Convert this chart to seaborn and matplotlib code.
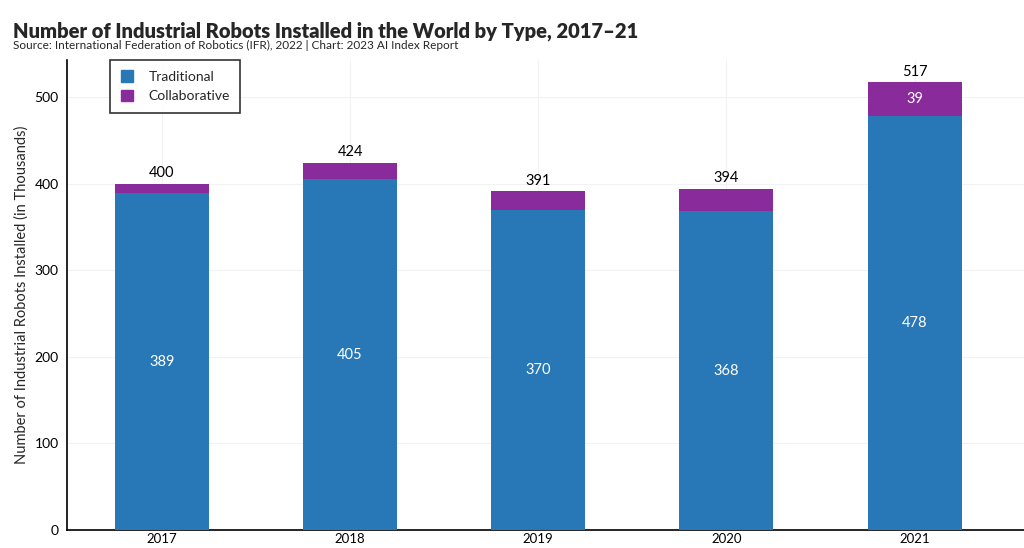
import matplotlib
matplotlib.use("Agg")
import matplotlib.pyplot as plt
import seaborn as sns
import pandas as pd
from matplotlib.patches import Patch

# data
years = ["2017", "2018", "2019", "2020", "2021"]
traditional = [389, 405, 370, 368, 478]
collaborative = [11, 19, 21, 26, 39]
totals = [t + c for t, c in zip(traditional, collaborative)]

blue = "#2878b8"
purple = "#8a2b9b"

sns.set_theme(style="white")
plt.rcParams["font.family"] = ["Lato", "DejaVu Sans"]

df = pd.DataFrame({"year": years, "traditional": traditional,
                   "collaborative": collaborative, "total": totals})

fig = plt.figure(figsize=(10.24, 5.48), dpi=100)
ax = fig.add_axes([0.0654, 0.0328, 0.96, 0.858])

# total bar first (purple), traditional on top of it (blue)
sns.barplot(data=df, x="year", y="total", color=purple, width=0.5,
            saturation=1, linewidth=0, ax=ax, zorder=2)
sns.barplot(data=df, x="year", y="traditional", color=blue, width=0.5,
            saturation=1, linewidth=0, ax=ax, zorder=3)

for i, row in df.iterrows():
    ax.text(i, row["traditional"] / 2, f"{row['traditional']}", ha="center",
            va="center", color="white", fontsize=10.5, zorder=4)
    ax.text(i, row["total"] + 4, f"{row['total']}", ha="center", va="bottom",
            color="black", fontsize=10.5, zorder=4)
    if row["collaborative"] >= 30:
        ax.text(i, row["traditional"] + row["collaborative"] / 2,
                f"{row['collaborative']}", ha="center", va="center",
                color="white", fontsize=10.5, zorder=4)

ax.set_xlim(-0.505, 4.72)
ax.set_ylim(0, 543)
ax.set_yticks([0, 100, 200, 300, 400, 500])
ax.grid(True, color="#f2f2f2", linewidth=0.8, zorder=0)
ax.set_axisbelow(True)
for s in ["top", "right"]:
    ax.spines[s].set_visible(False)
for s in ["left", "bottom"]:
    ax.spines[s].set_color("black")
    ax.spines[s].set_linewidth(1.2)
ax.tick_params(axis="y", labelsize=10, colors="black", length=0, pad=6)
ax.tick_params(axis="x", labelsize=9.5, colors="black", length=0, pad=2)
ax.set_xlabel("")
ax.set_ylabel("Number of Industrial Robots Installed (in Thousands)", fontsize=10.5)

handles = [Patch(color=blue, label="Traditional"),
           Patch(color=purple, label="Collaborative")]
leg = ax.legend(handles=handles, loc="upper left", bbox_to_anchor=(0.044, 1.0),
                borderaxespad=0, frameon=True, fancybox=False, edgecolor="black",
                fontsize=10, handlelength=0.9, handleheight=0.9, borderpad=0.75,
                labelspacing=0.5, handletextpad=1.1)
leg.get_frame().set_linewidth(1.2)

fig.text(0.013, 0.932, "Number of Industrial Robots Installed in the World by Type, 2017–21",
         fontsize=14.5, fontweight="heavy", ha="left", va="baseline")
fig.text(0.013, 0.91, "Source: International Federation of Robotics (IFR), 2022 | Chart: 2023 AI Index Report",
         fontsize=8.5, ha="left", va="baseline")

fig.savefig("out.png", dpi=100)
